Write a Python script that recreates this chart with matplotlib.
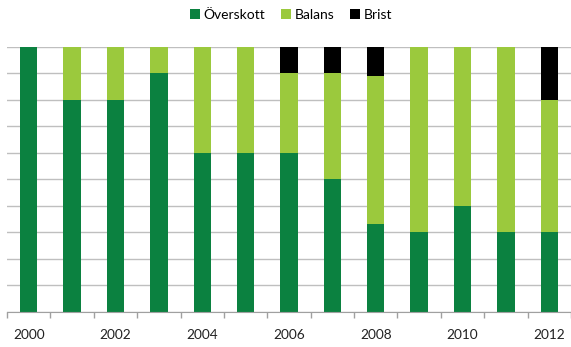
import matplotlib
matplotlib.use('Agg')
import matplotlib.pyplot as plt
from matplotlib.patches import Patch
import numpy as np

plt.rcParams['font.family'] = ['Lato', 'DejaVu Sans']

# Share of outcomes per year (percent)
years = [2000, 2001, 2002, 2003, 2004, 2005, 2006, 2007, 2008, 2009, 2010, 2011, 2012]
overskott = [100, 80, 80, 90, 60, 60, 60, 50, 33.3, 30, 40, 30, 30]
balans = [0, 20, 20, 10, 40, 40, 30, 40, 55.6, 70, 60, 70, 50]
brist = [0, 0, 0, 0, 0, 0, 10, 10, 11.1, 0, 0, 0, 20]
series_names = ['Överskott', 'Balans', 'Brist']
colors = ['#0b8140', '#9bc93d', '#000000']

fig = plt.figure(figsize=(5.71, 3.47), dpi=100)
ax = fig.add_axes([0.0123, 0.1009, 0.9877, 0.7637])

x = np.arange(len(years))
w = 0.4
ax.bar(x, overskott, width=w, color=colors[0], zorder=3)
ax.bar(x, balans, width=w, bottom=overskott, color=colors[1], zorder=3)
ax.bar(x, brist, width=w, bottom=np.add(overskott, balans), color=colors[2], zorder=3)

ax.set_xlim(-0.5, len(years) - 0.5)
ax.set_ylim(0, 100)
ax.set_yticks(np.arange(0, 101, 10))
ax.yaxis.grid(True, color='#bfbfbf', linewidth=1.0, zorder=0)
ax.tick_params(axis='y', length=0, labelleft=False)

ax.set_xticks(np.arange(-0.5, len(years)), labels=[])
ax.set_xticks(x[::2], labels=[str(y) for y in years[::2]], minor=True)
ax.tick_params(axis='x', which='major', length=4, color='#a0a0a0', width=1)
ax.tick_params(axis='x', which='minor', length=0, pad=12, labelsize=9.8, labelcolor='#222222')

for s in ['top', 'left', 'right']:
    ax.spines[s].set_visible(False)
ax.spines['bottom'].set_color('#a0a0a0')
ax.spines['bottom'].set_zorder(4)

handles = [Patch(facecolor=c, edgecolor='none') for c in colors]
fig.legend(handles, series_names, loc='center', bbox_to_anchor=(0.51, 0.956), ncol=3,
           frameon=False, fontsize=10, handlelength=0.72, handleheight=0.72,
           handletextpad=0.3, columnspacing=1.1)

fig.savefig('out.png', dpi=100)
